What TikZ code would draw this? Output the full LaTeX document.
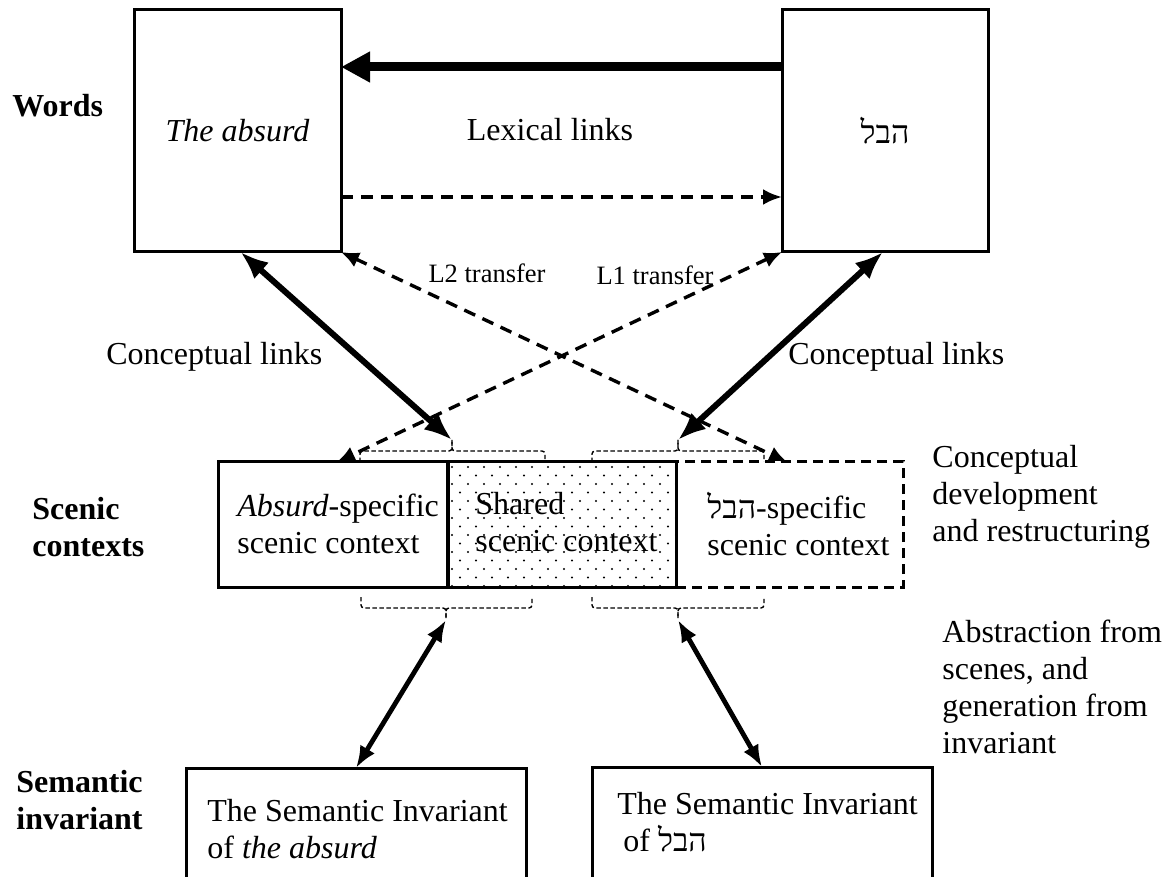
\documentclass[tikz,border=0pt]{standalone}
\usepackage{fontspec}
\setmainfont{Liberation Serif}
\newfontfamily\hebfont[Script=Hebrew]{Liberation Serif}
\TeXXeTstate=1
\usetikzlibrary{arrows.meta}
\newcommand\hevelword{{\hebfont\beginR הבל\endR}}

\begin{document}
\begin{tikzpicture}[x=0.5pt,y=-0.5pt,
  txt/.style={font=\fontsize{16}{18.5}\selectfont, inner sep=0pt, align=left},
  lbl/.style={font=\fontsize{16}{18.5}\selectfont\bfseries, inner sep=0pt, align=left},
  smalltxt/.style={font=\fontsize{13.25}{15}\selectfont, inner sep=0pt},
  wordbox/.style={draw, line width=1.5pt, minimum height=121pt, anchor=north west, inner sep=0pt, outer sep=0pt, font=\fontsize{16}{18.5}\selectfont},
  scsolid/.style={draw, line width=1.5pt, minimum height=62.5pt, anchor=north west, inner sep=0pt, outer sep=0pt},
  scdash/.style={draw, line width=1.5pt, dash pattern=on 5pt off 3pt, minimum height=62.5pt, anchor=north west, inner sep=0pt, outer sep=0pt},
  invbox/.style={minimum width=170pt, anchor=north west, inner sep=0pt, outer sep=0pt},
  boxline/.style={line width=1.5pt},
  brk/.style={line width=0.7pt, dash pattern=on 2.2pt off 1.3pt, rounded corners=1.5pt},
  cthick/.style={line width=3pt, <->, >={Latex[length=14pt,width=11pt]}},
  dthin/.style={line width=1.7pt, dash pattern=on 6pt off 4pt, <->, >={Latex[length=9pt,width=8pt]}},
  lexthick/.style={line width=4.5pt, ->, >={Triangle[length=14.5pt,width=14.5pt]}},
  dlex/.style={line width=1.7pt, dash pattern=on 6pt off 4pt, ->, >={Latex[length=9.5pt,width=8pt]}},
  cmed/.style={line width=2.4pt, <->, >={Latex[length=11pt,width=8.5pt]}}
]
\useasboundingbox (0,0) rectangle (1163,877);

% word boxes
\node[wordbox, minimum width=103.5pt] (absurdW) at (134,10) {\itshape The absurd};
\node[wordbox, minimum width=103pt] (hevelW) at (782,10) {\hevelword};

% scenic context boxes
\node[scdash, minimum width=113.5pt] (scH) at (676,462) {};
\node[scsolid, minimum width=115pt] (scA) at (218,462) {};
\node[scsolid, minimum width=114pt] (scS) at (448,462) {};
\begin{scope}
  \clip (scS.south west) rectangle (scS.north east);
  \foreach \rr in {0,...,15} {
    \foreach \cc in {0,...,15} {
      \fill ({452+16*\cc+8*mod(\rr,2)},{467+8.5*\rr}) circle[radius=0.55pt];
    }
  }
\end{scope}
\draw[line width=2pt] (scS.north west) -- (scS.south west);

\node[txt, anchor=west] (tA) at (237,524) {\textit{Absurd}-specific\\scenic context};
\node[txt, anchor=west] (tS) at (475,522) {Shared\\scenic context};
\node[txt, anchor=west] (tH) at (707,524) {\hevelword-specific\\scenic context};

% brackets
\coordinate (tb1) at (452,440);
\coordinate (tb2) at (678,440);
\coordinate (bb1) at (446,620);
\coordinate (bb2) at (678,620);
\draw[brk] (360,462) -- (360,451) -- (452,451) -- (452,440);
\draw[brk] (452,440) -- (452,451) -- (545,451) -- (545,462);
\draw[brk] (592,462) -- (592,451) -- (678,451) -- (678,440);
\draw[brk] (678,440) -- (678,451) -- (764,451) -- (764,462);
\draw[brk] (361,597) -- (361,608) -- (446,608) -- (446,618);
\draw[brk] (446,618) -- (446,608) -- (532,608) -- (532,597);
\draw[brk] (592,597) -- (592,608) -- (678,608) -- (678,618);
\draw[brk] (678,618) -- (678,608) -- (764,608) -- (764,597);

% invariant boxes
\node[invbox, minimum height=54.5pt] (invA) at (186,768) {};
\draw[boxline] (invA.south west) -- (invA.north west) -- (invA.north east) -- (invA.south east);
\node[invbox, minimum height=55pt] (invH) at (592,767) {};
\draw[boxline] (invH.south west) -- (invH.north west) -- (invH.north east) -- (invH.south east);
\node[txt, anchor=west] (tiA) at (207,829) {The Semantic Invariant\\of \textit{the absurd}};
\node[txt, anchor=west] (tiH) at (617,822) {The Semantic Invariant\\\hspace*{3pt}of \hevelword};

% labels
\node[lbl, anchor=west] (words) at (12,106) {Words};
\node[lbl, anchor=west] (scen) at (32,527) {Scenic\\contexts};
\node[lbl, anchor=west] (seminv) at (16,800) {Semantic\\invariant};
\node[txt] (lex) at (550,130) {Lexical links};
\node[smalltxt] (l2) at (487,273) {L2 transfer};
\node[smalltxt] (l1) at (655,275) {L1 transfer};
\node[txt, anchor=west] (cl1) at (106,357) {Conceptual links};
\node[txt, anchor=west] (cl2) at (788,357) {Conceptual links};
\node[txt, anchor=west] (cdev) at (932,497) {Conceptual\\development\\and restructuring};
\node[txt, anchor=west] (abst) at (942,687) {Abstraction from\\scenes, and\\generation from\\invariant};

% connectors
\coordinate (l2end) at (787,462);
\coordinate (l1end) at (337,462);
\draw[lexthick] ([yshift=32pt]hevelW.west) -- ([yshift=32pt]absurdW.east);
\draw[dlex] ([yshift=-33pt]absurdW.east) -- ([yshift=-33pt]hevelW.west);
\draw[cthick] ([xshift=1.5pt]absurdW.south) -- (tb1);
\draw[cthick] ([xshift=-1pt]hevelW.south) -- (tb2);
\draw[dthin] (absurdW.south east) -- (l2end);
\draw[dthin] (hevelW.south west) -- (l1end);
\draw[cmed] (bb1) -- (invA.north);
\draw[cmed] (bb2) -- (invH.north);
\end{tikzpicture}
\end{document}
